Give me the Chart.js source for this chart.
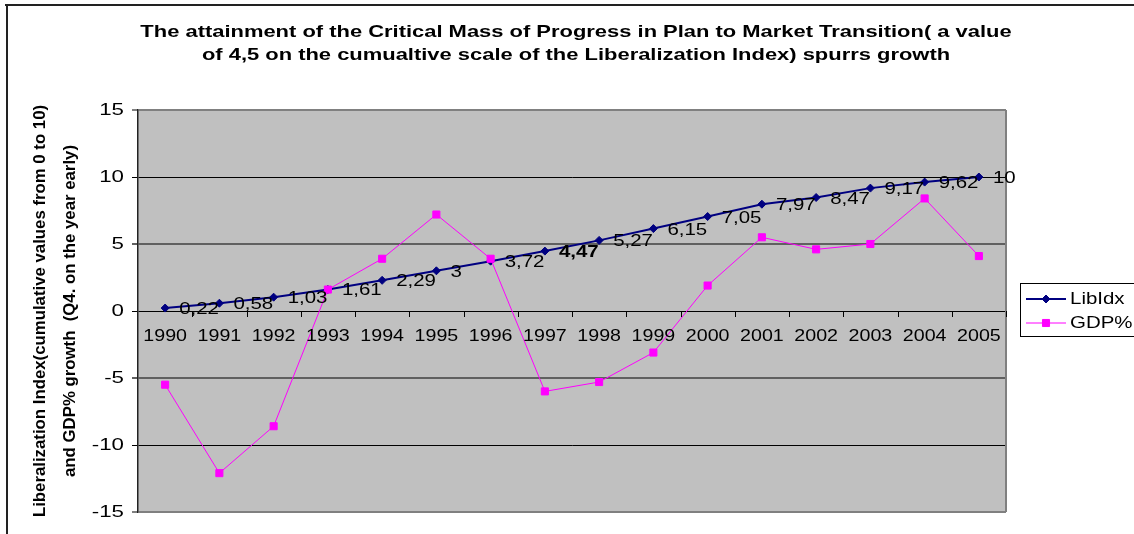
<!DOCTYPE html>
<html>
<head>
<meta charset="utf-8">
<script src="https://cdn.jsdelivr.net/npm/chart.js@4.4.0/dist/chart.umd.min.js"></script>
<style>
  html, body { margin: 0; padding: 0; background: #fff; }
  #wrap { width: 1134px; height: 534px; }
</style>
</head>
<body>
<div id="wrap"><canvas id="chart" width="1134" height="534"></canvas></div>
<script>
// data
const years = ['1990', '1991', '1992', '1993', '1994', '1995', '1996', '1997',
  '1998', '1999', '2000', '2001', '2002', '2003', '2004', '2005'];
const libIdx = [0.22, 0.58, 1.03, 1.61, 2.29, 3, 3.72, 4.47, 5.27, 6.15, 7.05, 7.97, 8.47, 9.17, 9.62, 10];
const gdpGrowth = [-5.5, -12.1, -8.6, 1.6, 3.9, 7.2, 3.9, -6.0, -5.3, -3.1, 1.9, 5.5, 4.6, 5.0, 8.4, 4.1];
const yTicks = [-15, -10, -5, 0, 5, 10, 15];
const seriesNames = ['LibIdx', 'GDP%'];
const titleLines = [
  'The attainment of the Critical Mass of Progress in Plan to Market Transition( a value',
  'of 4,5 on the cumualtive scale of the Liberalization Index) spurrs growth'
];
const yTitleLines = [
  'Liberalization Index(cumulative values from 0 to 10)',
  'and GDP% growth  (Q4. on the year early)'
];
const boldLabel = 7; // "4,47" is bold in the original

const FONT = '"Liberation Sans", Arial, sans-serif';

// the original picture is stretched sideways, so text gets a horizontal scale
function wideText(ctx, text, x, y, sx, align, font) {
  ctx.save();
  ctx.font = font;
  ctx.textAlign = align;
  ctx.textBaseline = 'middle';
  ctx.translate(x, y);
  ctx.scale(sx, 1);
  ctx.fillText(text, 0, 0);
  ctx.restore();
}

const decor = {
  id: 'decor',
  beforeDraw(chart) {
    const { ctx, chartArea: a } = chart;
    ctx.save();
    ctx.fillStyle = '#fff';
    ctx.fillRect(0, 0, chart.width, chart.height);
    ctx.fillStyle = '#c0c0c0';
    ctx.fillRect(a.left, a.top, a.right - a.left, a.bottom - a.top);
    ctx.restore();
  },
  afterDraw(chart) {
    const { ctx, chartArea: a } = chart;
    const x = chart.scales.x, y = chart.scales.y;
    ctx.save();
    ctx.fillStyle = '#000';

    // right edge of plot
    ctx.strokeStyle = '#808080';
    ctx.lineWidth = 2;
    ctx.beginPath();
    ctx.moveTo(a.right, a.top);
    ctx.lineTo(a.right, a.bottom);
    ctx.stroke();

    // y tick labels
    yTicks.forEach(v => {
      wideText(ctx, String(v), a.left - 14, y.getPixelForValue(v), 1.35, 'right', '16.5px ' + FONT);
    });

    // category labels and tick marks sit on the zero line
    const y0 = y.getPixelForValue(0);
    const half = (x.getPixelForValue(1) - x.getPixelForValue(0)) / 2;
    ctx.strokeStyle = '#000';
    ctx.lineWidth = 1;
    years.forEach((yr, i) => {
      const px = x.getPixelForValue(i);
      wideText(ctx, yr, px, y0 + 25, 1.19, 'center', '16.5px ' + FONT);
      ctx.beginPath();
      ctx.moveTo(Math.round(px + half) + 0.5, y0);
      ctx.lineTo(Math.round(px + half) + 0.5, y0 + 6);
      ctx.stroke();
    });

    // value labels on LibIdx
    const meta = chart.getDatasetMeta(0);
    meta.data.forEach((pt, i) => {
      const txt = String(libIdx[i]).replace('.', ',');
      const f = (i === boldLabel ? 'bold ' : '') + '16.5px ' + FONT;
      wideText(ctx, txt, pt.x + 14, pt.y + 1.5, 1.24, 'left', f);
    });

    // title
    titleLines.forEach((t, i) => {
      wideText(ctx, t, 576, 32 + i * 23, 1.29, 'center', 'bold 17px ' + FONT);
    });

    // y axis title
    ctx.save();
    ctx.font = 'bold 16.8px ' + FONT;
    ctx.textAlign = 'center';
    ctx.textBaseline = 'alphabetic';
    yTitleLines.forEach((t, i) => {
      ctx.save();
      ctx.translate(45 + i * 30, (a.top + a.bottom) / 2);
      ctx.rotate(-Math.PI / 2);
      ctx.fillText(t, 0, 0);
      ctx.restore();
    });
    ctx.restore();

    // legend
    ctx.strokeStyle = '#000';
    ctx.lineWidth = 1;
    ctx.strokeRect(1020.5, 283.5, 130, 53);
    chart.data.datasets.forEach((ds, i) => {
      const ly = 299 + i * 24;
      ctx.strokeStyle = ds.borderColor;
      ctx.lineWidth = ds.borderWidth;
      ctx.beginPath();
      ctx.moveTo(1026, ly);
      ctx.lineTo(1066, ly);
      ctx.stroke();
      ctx.fillStyle = ds.pointBackgroundColor;
      ctx.strokeStyle = ds.borderColor;
      ctx.lineWidth = 1;
      Chart.helpers.drawPoint(ctx, {
        pointStyle: ds.pointStyle, radius: ds.pointRadius, borderWidth: 1, rotation: 0
      }, 1046, ly);
      ctx.fillStyle = '#000';
      wideText(ctx, ds.label, 1070, ly, 1.24, 'left', '16.5px ' + FONT);
    });

    // outer frame (cut off at right and bottom)
    ctx.fillStyle = '#222';
    ctx.fillRect(5, 4, chart.width - 5, 2);
    ctx.fillRect(6, 4, 2, chart.height - 4);
    ctx.restore();
  }
};

function gridColor(c) {
  const v = c.tick && c.tick.value;
  if (Math.abs(v) === 15) return '#808080';
  if (Math.abs(v) === 5) return '#606060';
  return '#000';
}
function gridWidth(c) {
  const v = c.tick && c.tick.value;
  return Math.abs(v) === 15 || Math.abs(v) === 5 ? 2 : 1;
}

new Chart(document.getElementById('chart'), {
  type: 'line',
  data: {
    labels: years,
    datasets: [
      {
        label: seriesNames[0],
        data: libIdx,
        borderColor: '#000080',
        backgroundColor: '#000080',
        pointBackgroundColor: '#000080',
        borderWidth: 2,
        pointStyle: 'rectRot',
        pointRadius: 4,
        pointBorderWidth: 1,
        order: 1
      },
      {
        label: seriesNames[1],
        data: gdpGrowth,
        borderColor: '#ff00ff',
        backgroundColor: '#ff00ff',
        pointBackgroundColor: '#ff00ff',
        borderWidth: 1,
        pointStyle: 'rect',
        pointRadius: 5,
        pointBorderWidth: 1,
        order: 0
      }
    ]
  },
  options: {
    responsive: false,
    animation: false,
    events: [],
    layout: { padding: { left: 0, right: 128, top: 110, bottom: 22 } },
    plugins: {
      legend: { display: false },
      title: { display: false },
      tooltip: { enabled: false }
    },
    scales: {
      x: {
        display: false,
        offset: true
      },
      y: {
        min: -15,
        max: 15,
        afterBuildTicks: s => { s.ticks = yTicks.map(v => ({ value: v })); },
        afterFit: s => { s.width = 138; },
        ticks: { display: false },
        grid: { color: gridColor, lineWidth: gridWidth, tickLength: 6 },
        border: { color: '#222', width: 1.5 }
      }
    }
  },
  plugins: [decor]
});
</script>
</body>
</html>
